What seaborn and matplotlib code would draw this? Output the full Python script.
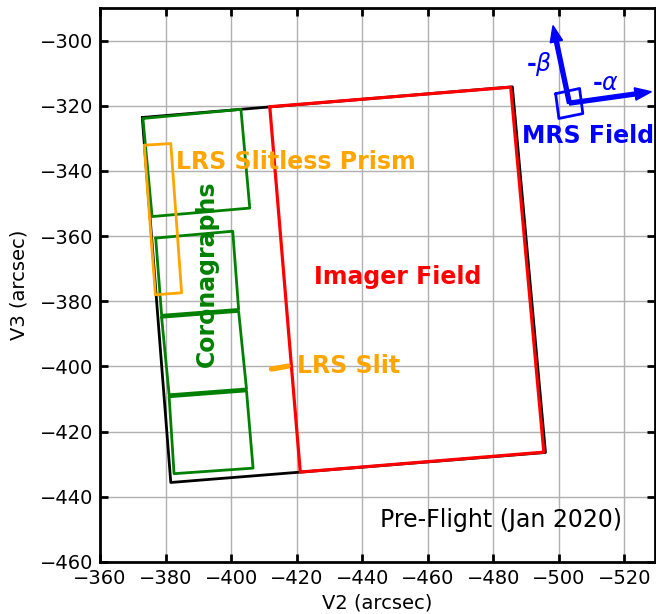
import pandas as pd
import seaborn as sns
import matplotlib.pyplot as plt

# corner coordinates (V2, V3) in arcsec
miri_v2 = [-372.9, -485.8, -495.9, -381.6]
miri_v3 = [-323.6, -314.2, -426.4, -435.6]

imager_v2 = [-411.8, -485.3, -495.4, -421.1]
imager_v3 = [-320.3, -314.3, -426.3, -432.4]

lyot_v2 = [-373.1, -403.0, -405.7, -375.9]
lyot_v3 = [-323.9, -321.1, -351.4, -354.0]

qpm1_v2 = [-377.0, -400.5, -402.3, -378.8]
qpm1_v3 = [-360.6, -358.5, -382.5, -384.3]
qpm2_v2 = [-378.8, -402.3, -404.7, -381.1]
qpm2_v3 = [-384.9, -383.1, -406.9, -408.7]
qpm3_v2 = [-381.1, -404.7, -406.7, -382.6]
qpm3_v3 = [-409.3, -407.5, -431.2, -432.9]

prism_v2 = [-373.5, -381.6, -384.9, -376.9]
prism_v3 = [-332.1, -331.6, -377.4, -378.0]

slit_v2 = [-412.3, -417.4]
slit_v3 = [-400.8, -399.9]

mrs_v2 = [-499.0, -506.3, -507.3, -500.0]
mrs_v3 = [-316.3, -314.7, -322.4, -323.9]
mrs_origin = (-503.2, -319.2)
beta_tip = (-498.2, -295.4)
alpha_tip = (-528.2, -315.7)

sns.set_theme(style="whitegrid")
plt.rcParams['font.family'] = ['DejaVu Sans']

fig = plt.figure(figsize=(6.56, 6.14), dpi=100)
ax = fig.add_axes([0.1524, 0.0847, 0.846, 0.9023])


def outline(v2, v3, color, lw, closed=True, z=2):
    xs, ys = list(v2), list(v3)
    if closed:
        xs.append(xs[0])
        ys.append(ys[0])
    df = pd.DataFrame({'V2': xs, 'V3': ys})
    sns.lineplot(data=df, x='V2', y='V3', sort=False, estimator=None,
                 color=color, lw=lw, ax=ax, zorder=z)


outline(miri_v2, miri_v3, 'black', 2.0, z=2)
outline(imager_v2, imager_v3, 'red', 2.3, z=3)
for v2, v3 in [(lyot_v2, lyot_v3), (qpm1_v2, qpm1_v3),
               (qpm2_v2, qpm2_v3), (qpm3_v2, qpm3_v3)]:
    outline(v2, v3, 'green', 2.0, z=4)
outline(prism_v2, prism_v3, 'orange', 2.0, z=5)
outline(slit_v2, slit_v3, 'orange', 3.8, closed=False, z=5)
outline(mrs_v2, mrs_v3, 'blue', 2.0, z=5)

for tip in (beta_tip, alpha_tip):
    ax.arrow(mrs_origin[0], mrs_origin[1], tip[0] - mrs_origin[0], tip[1] - mrs_origin[1],
             width=1.2, head_width=3.8, head_length=5.0, length_includes_head=True,
             color='blue', zorder=6)

ax.text(-383.2, -337.2, 'LRS Slitless Prism', color='orange', fontsize=17,
        fontweight='bold', ha='left', va='center', zorder=7)
ax.text(-425.2, -372.4, 'Imager Field', color='red', fontsize=17,
        fontweight='bold', ha='left', va='center', zorder=7)
ax.text(-488.6, -329.3, 'MRS Field', color='blue', fontsize=17,
        fontweight='bold', ha='left', va='center', zorder=7)
ax.text(-420.1, -400.0, 'LRS Slit', color='orange', fontsize=17,
        fontweight='bold', ha='left', va='center', zorder=7)
ax.text(-392.6, -371.6, 'Coronagraphs', color='green', fontsize=17,
        fontweight='bold', rotation=90, ha='center', va='center', zorder=7)
ax.text(-490.1, -307.3, r'-$\beta$', color='blue', fontsize=17,
        fontweight='bold', ha='left', va='center', zorder=7)
ax.text(-510.2, -312.9, r'-$\alpha$', color='blue', fontsize=17,
        fontweight='bold', ha='left', va='center', zorder=7)
ax.text(-445.4, -447.0, 'Pre-Flight (Jan 2020)', color='black', fontsize=17,
        ha='left', va='center', zorder=7)

ax.set_xlim(-360, -529.3)
ax.set_ylim(-460, -290)
ax.set_xticks(range(-360, -521, -20))
ax.set_yticks(range(-460, -299, 20))
ax.set_xlabel('V2 (arcsec)', fontsize=14, color='black')
ax.set_ylabel('V3 (arcsec)', fontsize=14, color='black', labelpad=8)

ax.grid(True, color='#b0b0b0', lw=1.0)
ax.set_facecolor('white')
for s in ax.spines.values():
    s.set_color('black')
    s.set_linewidth(2.0)
ax.tick_params(axis='both', which='major', direction='in', length=6, width=2,
               labelsize=14, colors='black', top=True, right=True,
               bottom=True, left=True, pad=5)
ax.set_axisbelow(True)

fig.savefig('out.png', dpi=100)
